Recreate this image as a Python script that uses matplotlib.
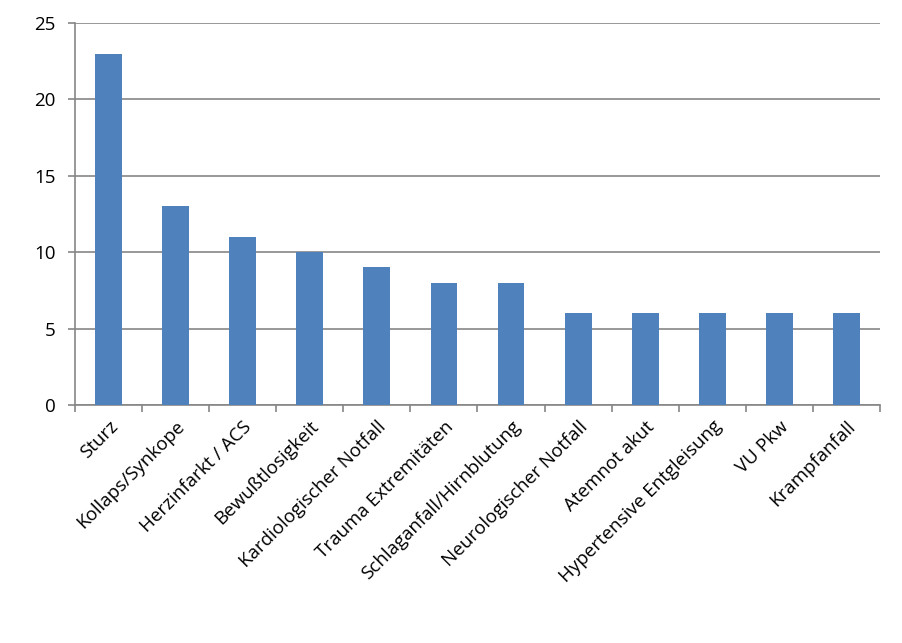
import matplotlib
matplotlib.use('Agg')
import matplotlib.pyplot as plt
import numpy as np

categories = ['Sturz', 'Kollaps/Synkope', 'Herzinfarkt / ACS', 'Bewußtlosigkeit',
              'Kardiologischer Notfall', 'Trauma Extremitäten', 'Schlaganfall/Hirnblutung',
              'Neurologischer Notfall', 'Atemnot akut', 'Hypertensive Entgleisung',
              'VU Pkw', 'Krampfanfall']
values = [23, 13, 11, 10, 9, 8, 8, 6, 6, 6, 6, 6]
yticks = [0, 5, 10, 15, 20, 25]

plt.rcParams['font.family'] = ['Open Sans', 'DejaVu Sans']

fig = plt.figure(figsize=(9.03, 6.43), dpi=100)
ax = fig.add_axes([75/903, 1-405/643, 805/903, 382/643])

x = np.arange(len(categories))
ax.bar(x, values, width=0.4, color='#4F81BD', zorder=3)

ax.set_xlim(-0.5, len(categories) - 0.5)
ax.set_ylim(0, 25)
ax.set_yticks(yticks)
ax.yaxis.grid(True, color='#868686', linewidth=1.2)
ax.set_axisbelow(True)

ax.set_xticks(np.arange(len(categories) + 1) - 0.5)
ax.set_xticklabels([])
ax.set_xticks(x, minor=True)
ax.set_xticklabels(categories, minor=True, rotation=45, ha='right',
                   rotation_mode='anchor', fontsize=13.5)
ax.tick_params(axis='x', which='minor', length=0, pad=9)
ax.tick_params(axis='x', which='major', length=5, color='#868686', width=1.2)
ax.tick_params(axis='y', length=5, color='#868686', width=1.2, labelsize=13.5, pad=9)

for s in ['top', 'right']:
    ax.spines[s].set_visible(False)
for s in ['left', 'bottom']:
    ax.spines[s].set_color('#868686')
    ax.spines[s].set_linewidth(1.2)

fig.savefig('out.png', dpi=100)
